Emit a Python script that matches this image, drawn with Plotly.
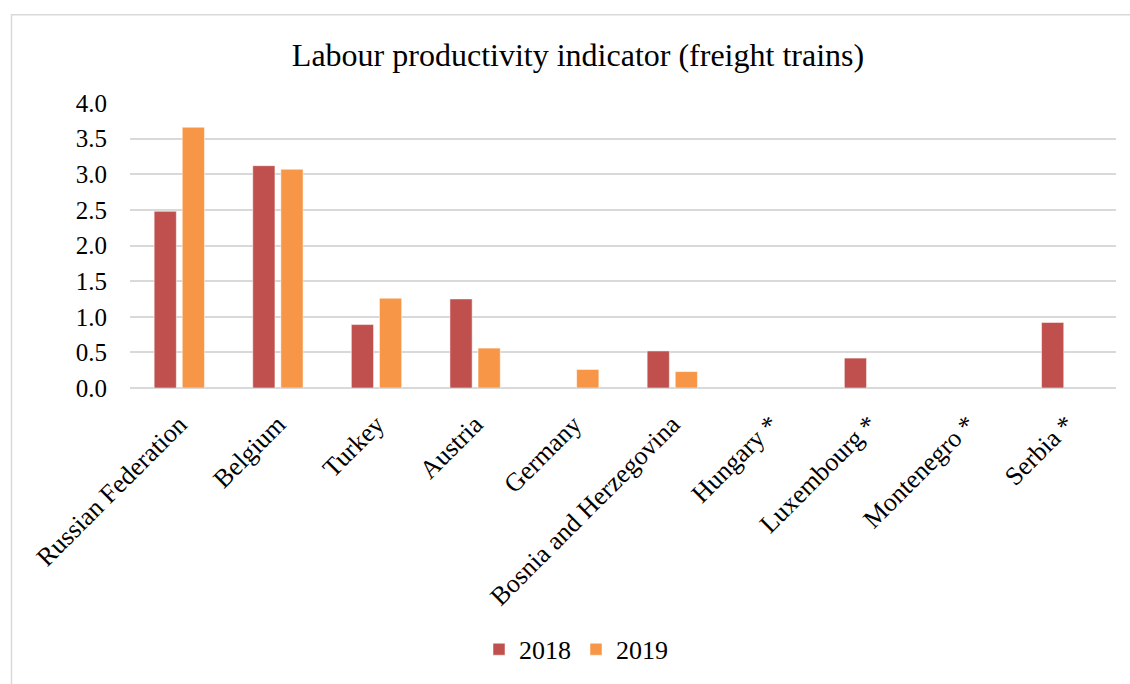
import plotly.graph_objects as go

categories = ["Russian Federation", "Belgium", "Turkey", "Austria", "Germany",
              "Bosnia and Herzegovina", "Hungary *", "Luxembourg *",
              "Montenegro *", "Serbia *"]
values_2018 = [2.48, 3.12, 0.89, 1.25, None, 0.52, None, 0.42, None, 0.92]
values_2019 = [3.66, 3.07, 1.26, 0.56, 0.26, 0.23, None, None, None, None]
y_ticks = [0.0, 0.5, 1.0, 1.5, 2.0, 2.5, 3.0, 3.5, 4.0]

FONT = "Liberation Serif, Times New Roman, serif"

fig = go.Figure()
fig.add_trace(go.Bar(name="2018", x=categories, y=values_2018,
                     marker=dict(color="#C0504D", line=dict(color="rgba(255,255,255,0.5)", width=1))))
fig.add_trace(go.Bar(name="2019", x=categories, y=values_2019,
                     marker=dict(color="#F79646", line=dict(color="rgba(255,255,255,0.5)", width=1))))

W, H = 1130, 684
L, R, T, B = 130, 14, 103, 292
pw, ph = W - L - R, H - T - B

def px_x(p):
    return (p - L) / pw

def px_y(p):
    return (H - B - p) / ph

fig.update_layout(
    width=W, height=H,
    margin=dict(l=L, r=R, t=T, b=B),
    paper_bgcolor="white", plot_bgcolor="white",
    font=dict(family=FONT, color="black", size=25),
    title=dict(text="Labour productivity indicator (freight trains)",
               x=578 / W, xanchor="center", y=1 - 55 / H, yanchor="middle",
               font=dict(family=FONT, size=32, color="black")),
    barmode="group", bargap=0.43, bargroupgap=0.21,
    showlegend=True,
    legend=dict(orientation="h", x=px_x(576), xanchor="center",
                y=px_y(657), yanchor="middle",
                font=dict(family=FONT, size=26, color="black"),
                bgcolor="rgba(0,0,0,0)"),
    xaxis=dict(tickangle=-45, showgrid=False, showline=False, ticks="",
               ticklabelstandoff=15,
               tickfont=dict(family=FONT, size=26, color="black")),
    yaxis=dict(range=[0, 4.0], tickvals=y_ticks, tickformat=".1f",
               showgrid=True, gridcolor="#D9D9D9", gridwidth=1.5,
               zeroline=True, zerolinecolor="#D9D9D9", zerolinewidth=1.5,
               showline=False, ticks="", ticklabelstandoff=22,
               tickfont=dict(family=FONT, size=25, color="black")),
    shapes=[dict(type="rect", xref="paper", yref="paper",
                 x0=px_x(11.5), x1=px_x(1200), y0=px_y(760), y1=px_y(13.5),
                 line=dict(color="#D9D9D9", width=1.5), fillcolor="rgba(0,0,0,0)",
                 layer="below")],
)

fig.write_html("out.html")
